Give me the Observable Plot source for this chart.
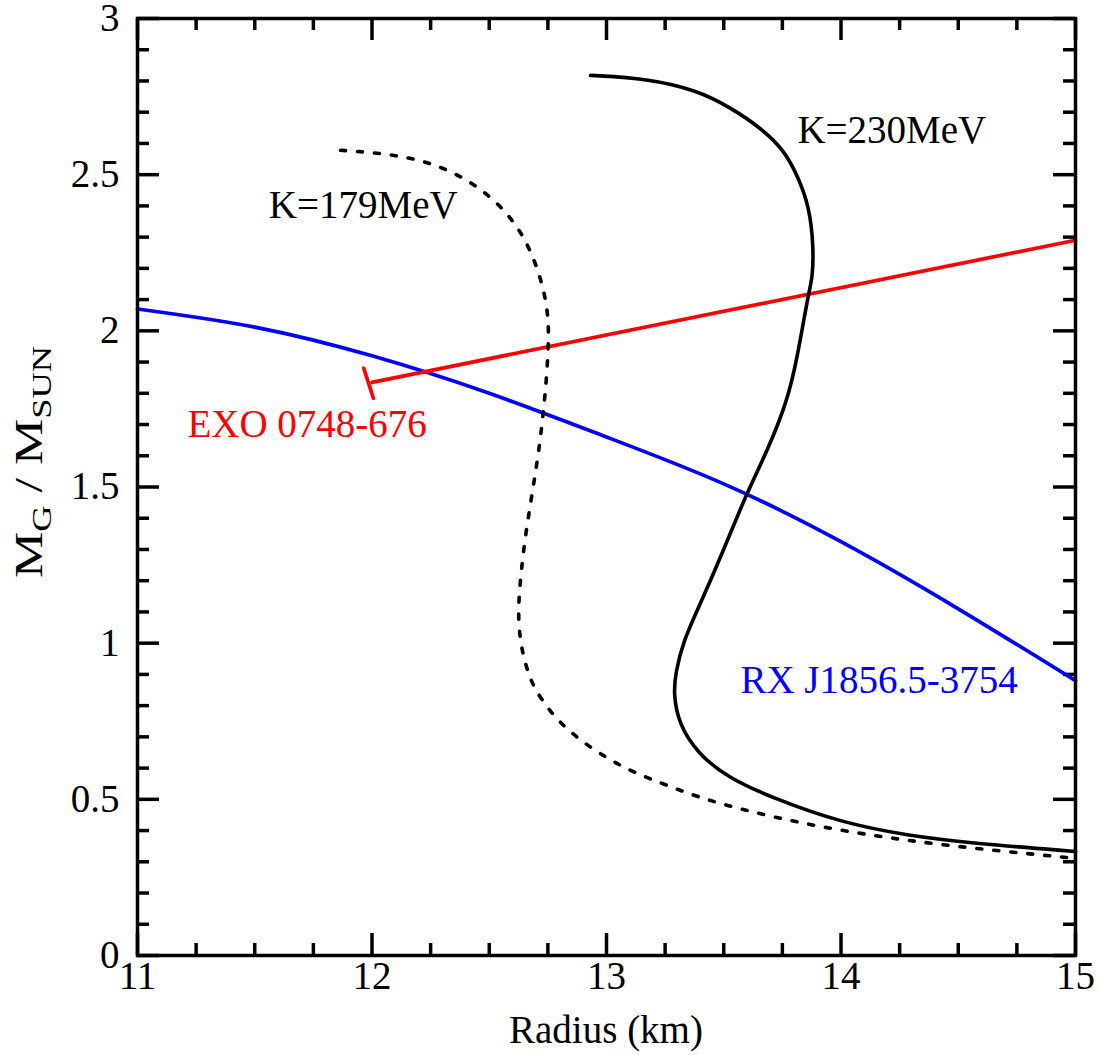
<!DOCTYPE html>
<html>
<head>
<meta charset="utf-8">
<script src="https://cdn.jsdelivr.net/npm/d3@7"></script>
<script src="https://cdn.jsdelivr.net/npm/@observablehq/plot@0.6"></script>
<style>
  html, body { margin: 0; padding: 0; background: #fff; }
</style>
</head>
<body>
<div id="chart"></div>
<script>
// ---- data ----
const k230R = [12.932, 13.175, 13.388, 13.529, 13.661, 13.755, 13.815, 13.866, 13.883, 13.879, 13.861, 13.814, 13.772, 13.687, 13.597, 13.499, 13.401, 13.328, 13.294, 13.286, 13.307, 13.388, 13.516, 13.712, 13.998, 14.284, 14.565, 15.0];
const k230M = [2.818, 2.808, 2.770, 2.715, 2.648, 2.580, 2.497, 2.395, 2.267, 2.171, 2.120, 1.915, 1.777, 1.617, 1.479, 1.297, 1.127, 1.009, 0.903, 0.839, 0.743, 0.647, 0.570, 0.503, 0.426, 0.384, 0.359, 0.333];

const k179R = [11.866, 12.006, 12.164, 12.305, 12.433, 12.548, 12.633, 12.689, 12.731, 12.753, 12.753, 12.740, 12.731, 12.719, 12.697, 12.655, 12.638, 12.625, 12.625, 12.642, 12.663, 12.689, 12.770, 12.876, 12.996, 13.115, 13.260, 13.431, 13.712, 13.998, 14.284, 14.565, 15.0];
const k179M = [2.578, 2.571, 2.555, 2.523, 2.472, 2.402, 2.321, 2.235, 2.139, 2.043, 1.947, 1.809, 1.745, 1.659, 1.543, 1.351, 1.242, 1.137, 1.050, 0.967, 0.913, 0.858, 0.768, 0.695, 0.634, 0.586, 0.544, 0.496, 0.442, 0.400, 0.368, 0.343, 0.311];

const rxR = [11.0, 11.5, 12.0, 12.5, 13.0, 13.5, 14.0, 14.5, 15.0];
const rxM = [2.07, 2.012, 1.92, 1.80, 1.66, 1.51, 1.325, 1.11, 0.88];

const exoR = [12.0, 15.0];
const exoM = [1.835, 2.29];
const exoCapR = [11.965, 12.006];
const exoCapM = [1.880, 1.784];

const labelTexts = ["K=230MeV", "K=179MeV", "EXO 0748-676", "RX J1856.5-3754"];
const labelR = [13.814, 11.56, 11.213, 13.571];
const labelM = [2.640, 2.402, 1.699, 0.881];
const labelColors = ["black", "black", "red", "blue"];

const xMajor = [11, 12, 13, 14, 15];
const xMinor = [11.25, 11.5, 11.75, 12.25, 12.5, 12.75, 13.25, 13.5, 13.75, 14.25, 14.5, 14.75];
const yMajor = [0, 0.5, 1, 1.5, 2, 2.5, 3];
const yMinor = [0.1, 0.2, 0.3, 0.4, 0.6, 0.7, 0.8, 0.9, 1.1, 1.2, 1.3, 1.4, 1.6, 1.7, 1.8, 1.9, 2.1, 2.2, 2.3, 2.4, 2.6, 2.7, 2.8, 2.9];
const xTickLabels = ["11", "12", "13", "14", "15"];
const yTickLabels = ["0", "0.5", "1", "1.5", "2", "2.5", "3"];

// ---- pick an installed Times-like serif font, if any ----
function pickSerif() {
  const c = document.createElement("canvas").getContext("2d");
  const s = "K=179MeV RX J1856.5-3754 Radius";
  const w = f => { c.font = "40px " + f; return c.measureText(s).width; };
  const wm = w("monospace"), ws = w("sans-serif");
  const cands = ["Liberation Serif", "Tinos", "Times New Roman", "Times", "Nimbus Roman", "FreeSerif", "DejaVu Serif", "Noto Serif"];
  for (const n of cands) {
    const a = w(`"${n}", monospace`), b = w(`"${n}", sans-serif`);
    if (Math.abs(a - wm) > 0.5 && Math.abs(b - ws) > 0.5) return `"${n}", serif`;
  }
  return "serif";
}
const FONT = pickSerif();

// ---- build tables ----
const toPts = (R, M) => R.map((r, i) => ({r, m: M[i]}));
const k230 = toPts(k230R, k230M);
const k179 = toPts(k179R, k179M);
const rx = toPts(rxR, rxM);
const exo = toPts(exoR, exoM);
const exoCap = toPts(exoCapR, exoCapM);
const labels = labelTexts.map((t, i) => ({t, r: labelR[i], m: labelM[i], c: labelColors[i]}));

// ---- layout ----
const W = 1102, H = 1055, mL = 137, mR = 27, mT = 18, mB = 100;
const innerH = H - mT - mB;
const innerW = W - mL - mR;
const majorLen = 22, minorLen = 12;
const FS = 39;

const plot = Plot.plot({
  width: W, height: H,
  marginLeft: mL, marginRight: mR, marginTop: mT, marginBottom: mB,
  style: {fontFamily: FONT, fontSize: FS + "px", background: "white", color: "black", overflow: "visible"},
  x: {domain: [11, 15]},
  y: {domain: [0, 3]},
  marks: [
    // inward tick marks on all four sides
    Plot.tickX(xMajor, {x: d => d, insetTop: innerH - majorLen, stroke: "black", strokeWidth: 3.5}),
    Plot.tickX(xMinor, {x: d => d, insetTop: innerH - minorLen, stroke: "black", strokeWidth: 3.5}),
    Plot.tickX(xMajor, {x: d => d, insetBottom: innerH - majorLen, stroke: "black", strokeWidth: 3.5}),
    Plot.tickX(xMinor, {x: d => d, insetBottom: innerH - minorLen, stroke: "black", strokeWidth: 3.5}),
    Plot.tickY(yMajor, {y: d => d, insetRight: innerW - majorLen, stroke: "black", strokeWidth: 3.5}),
    Plot.tickY(yMinor, {y: d => d, insetRight: innerW - minorLen, stroke: "black", strokeWidth: 3.5}),
    Plot.tickY(yMajor, {y: d => d, insetLeft: innerW - majorLen, stroke: "black", strokeWidth: 3.5}),
    Plot.tickY(yMinor, {y: d => d, insetLeft: innerW - minorLen, stroke: "black", strokeWidth: 3.5}),
    Plot.axisX(xMajor, {tickSize: 0, tickPadding: 6, tickFormat: (d, i) => xTickLabels[i], label: null, fontSize: FS, fontFamily: FONT}),
    Plot.axisY(yMajor, {tickSize: 0, tickPadding: 18, tickFormat: (d, i) => yTickLabels[i], label: null, fontSize: FS, fontFamily: FONT}),
    // curves
    Plot.line(rx, {x: "r", y: "m", stroke: "blue", strokeWidth: 3.7, curve: "natural"}),
    Plot.line(exo, {x: "r", y: "m", stroke: "red", strokeWidth: 3.7}),
    Plot.line(exoCap, {x: "r", y: "m", stroke: "red", strokeWidth: 3.7}),
    Plot.line(k179, {x: "r", y: "m", stroke: "black", strokeWidth: 3.6, curve: "basis", strokeDasharray: "5,12", strokeLinecap: "round"}),
    Plot.line(k230, {x: "r", y: "m", stroke: "black", strokeWidth: 3.6, curve: "basis"}),
    Plot.text(labels, {x: "r", y: "m", text: "t", fill: "c", textAnchor: "start", lineAnchor: "middle", fontSize: FS, fontFamily: FONT}),
    Plot.frame({stroke: "black", strokeWidth: 3.5, strokeLinecap: "square"})
  ]
});

// axis titles (with subscripts)
const svg = d3.select(plot);
svg.append("text")
  .attr("x", mL + innerW / 2)
  .attr("y", 1043)
  .attr("text-anchor", "middle")
  .style("font-family", FONT)
  .attr("font-size", FS)
  .attr("fill", "black")
  .text("Radius (km)");

const yl = svg.append("text")
  .attr("transform", "translate(42,462) rotate(-90) scale(1.3,1)")
  .attr("text-anchor", "middle")
  .style("font-family", FONT)
  .attr("font-size", 40)
  .attr("fill", "black");
yl.append("tspan").text("M");
yl.append("tspan").attr("dy", 9).attr("font-size", 28).text("G");
yl.append("tspan").attr("dy", -9).text(" / M");
yl.append("tspan").attr("dy", 9).attr("font-size", 28).text("SUN");

document.getElementById("chart").appendChild(plot);
</script>
</body>
</html>
